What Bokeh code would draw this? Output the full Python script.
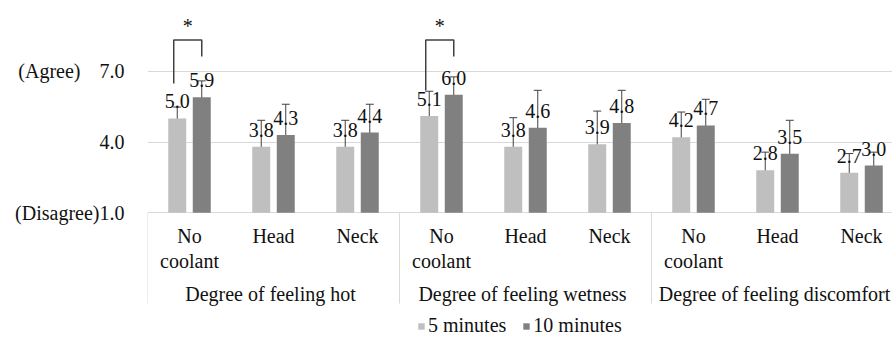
from bokeh.plotting import figure
from bokeh.models import (Range1d, FixedTicker, ColumnDataSource, Whisker, TeeHead,
                          Legend, LegendItem)
from bokeh.core.properties import value
from bokeh.embed import file_html
from bokeh.resources import INLINE

# ---------------- data ----------------
groups = ["Degree of feeling hot", "Degree of feeling wetness", "Degree of feeling discomfort"]
conditions = ["No\ncoolant", "Head", "Neck"]
series_names = ["5 minutes", "10 minutes"]

mean_5 = [5.0, 3.8, 3.8, 5.1, 3.8, 3.9, 4.2, 2.8, 2.7]
mean_10 = [5.9, 4.3, 4.4, 6.0, 4.6, 4.8, 4.7, 3.5, 3.0]
low_5 = [4.00, 2.80, 2.80, 4.13, 2.80, 2.90, 3.18, 1.81, 1.71]
high_5 = [5.48, 4.92, 4.92, 6.15, 5.03, 5.31, 5.27, 3.57, 3.51]
low_10 = [4.92, 3.32, 3.40, 5.02, 3.59, 3.79, 3.69, 2.51, 2.00]
high_10 = [6.59, 5.60, 5.60, 6.76, 6.19, 6.19, 5.81, 4.92, 3.57]

y_ticks = [1, 4, 7]
y_tick_labels = ["(Disagree)1.0", "4.0", "(Agree)\u00a0\u00a0\u00a0\u2009" + "7.0"]

# significance brackets (category index, left end, right end, top)
sig_index = [0, 3]
sig_left_end = [6.48, 6.18]
sig_right_end = [7.62, 7.62]
sig_top = [8.32, 8.32]
sig_label = ["*", "*"]

# ---------------- layout ----------------
W, H = 892, 337
LEFT = 147
CAT_PX = 84.0
PPU = 23.6                 # pixels per y unit
Y1 = 212.3                 # y=1 position from top of figure
y_top = 1 + Y1 / PPU
y_bot = 1 - (H - Y1) / PPU
x_end = (W - LEFT) / CAT_PX

FONT_NAME = "Liberation Serif"
FONT = value(FONT_NAME)
TXT = "#111111"
LIGHT = "#bfbfbf"
DARK = "#808080"
ERR = "#404040"
GRID = "#d9d9d9"

OFF = 0.146
BAR_W = 0.214
LABEL_GAP = 17   # px between bar top and value-label anchor

n = len(mean_5)
centers = [i + 0.5 for i in range(n)]
x5 = [c - OFF for c in centers]
x10 = [c + OFF for c in centers]

p = figure(width=W, height=H, output_backend="svg", toolbar_location=None,
           x_range=Range1d(0, x_end), y_range=Range1d(y_bot, y_top),
           x_axis_location=None, min_border_left=LEFT, min_border_right=0,
           min_border_top=0, min_border_bottom=0)
p.outline_line_color = None
p.background_fill_color = "white"
p.border_fill_color = "white"

# y axis
p.yaxis.ticker = FixedTicker(ticks=y_ticks)
p.yaxis.major_label_overrides = {t: l for t, l in zip(y_ticks, y_tick_labels)}
p.yaxis.axis_line_color = None
p.yaxis.major_tick_line_color = None
p.yaxis.minor_tick_line_color = None
p.yaxis.major_tick_out = 0
p.yaxis.major_tick_in = 0
p.yaxis.minor_tick_out = 0
p.yaxis.major_label_standoff = 23
p.yaxis.major_label_text_font = FONT_NAME
p.yaxis.major_label_text_font_size = "20px"
p.yaxis.major_label_text_color = TXT
p.xgrid.visible = False
p.ygrid.ticker = FixedTicker(ticks=y_ticks)
p.ygrid.grid_line_color = GRID
p.ygrid.grid_line_width = 1

# bars
r5 = p.vbar(x=x5, top=mean_5, bottom=1, width=BAR_W, fill_color=LIGHT, line_color=None)
r10 = p.vbar(x=x10, top=mean_10, bottom=1, width=BAR_W, fill_color=DARK, line_color=None)

# value labels
p.text(x=x5, y=[v + LABEL_GAP / PPU for v in mean_5], text=[f"{v:.1f}" for v in mean_5],
       text_align="center", text_baseline="alphabetic", text_font=FONT,
       text_font_size="20px", text_color=TXT)
p.text(x=x10, y=[v + LABEL_GAP / PPU for v in mean_10], text=[f"{v:.1f}" for v in mean_10],
       text_align="center", text_baseline="alphabetic", text_font=FONT,
       text_font_size="20px", text_color=TXT)

# error bars
for xs, lo, hi in ((x5, low_5, high_5), (x10, low_10, high_10)):
    src = ColumnDataSource(dict(x=xs, lower=lo, upper=hi))
    w = Whisker(source=src, base="x", lower="lower", upper="upper", dimension="height",
                line_color=ERR, line_width=1,
                upper_head=TeeHead(size=8, line_color=ERR, line_width=1),
                lower_head=TeeHead(size=8, line_color=ERR, line_width=1))
    p.add_layout(w)

# category labels
cat_labels = [conditions[i % 3] for i in range(n)]
p.text(x=centers, y=[1 - 12.1 / PPU] * n, text=cat_labels, text_align="center",
       text_baseline="top", text_font=FONT, text_font_size="20px", text_color=TXT,
       text_line_height=1.16)

# group labels
g_centers = [3 * g + 1.5 for g in range(len(groups))]
p.text(x=g_centers, y=[1 - 70.1 / PPU] * len(groups), text=groups, text_align="center",
       text_baseline="top", text_font=FONT, text_font_size="20px", text_color=TXT,
       x_offset=-3)

# group separators
sep_x = [3 * g for g in range(len(groups))]
p.segment(x0=sep_x, y0=[1] * len(sep_x), x1=sep_x, y1=[1 - 90.7 / PPU] * len(sep_x),
          line_color=GRID, line_width=1)

# significance brackets
bxs, bys, ax, ay = [], [], [], []
for k, idx in enumerate(sig_index):
    xl = x5[idx] - 3.5 / CAT_PX
    xr = x10[idx]
    bxs.append([xl, xl, xr, xr])
    bys.append([sig_left_end[k], sig_top[k], sig_top[k], sig_right_end[k]])
    ax.append((xl + xr) / 2)
    ay.append(sig_top[k] + 14.5 / PPU)
p.multi_line(xs=bxs, ys=bys, line_color=ERR, line_width=1.5)
p.text(x=ax, y=ay, text=sig_label, text_align="center", text_baseline="alphabetic",
       text_font=FONT, text_font_size="20px", text_color=TXT)

# legend
legend = Legend(items=[LegendItem(label=series_names[0], renderers=[r5]),
                       LegendItem(label=series_names[1], renderers=[r10])],
                orientation="horizontal", location=(270, 0),
                glyph_width=8, glyph_height=8, label_standoff=3, spacing=16,
                padding=0, margin=0, border_line_color=None, background_fill_alpha=0,
                label_text_font=FONT_NAME, label_text_font_size="20px",
                label_text_color=TXT)
p.add_layout(legend)

open("out.html", "w").write(file_html(p, INLINE))
